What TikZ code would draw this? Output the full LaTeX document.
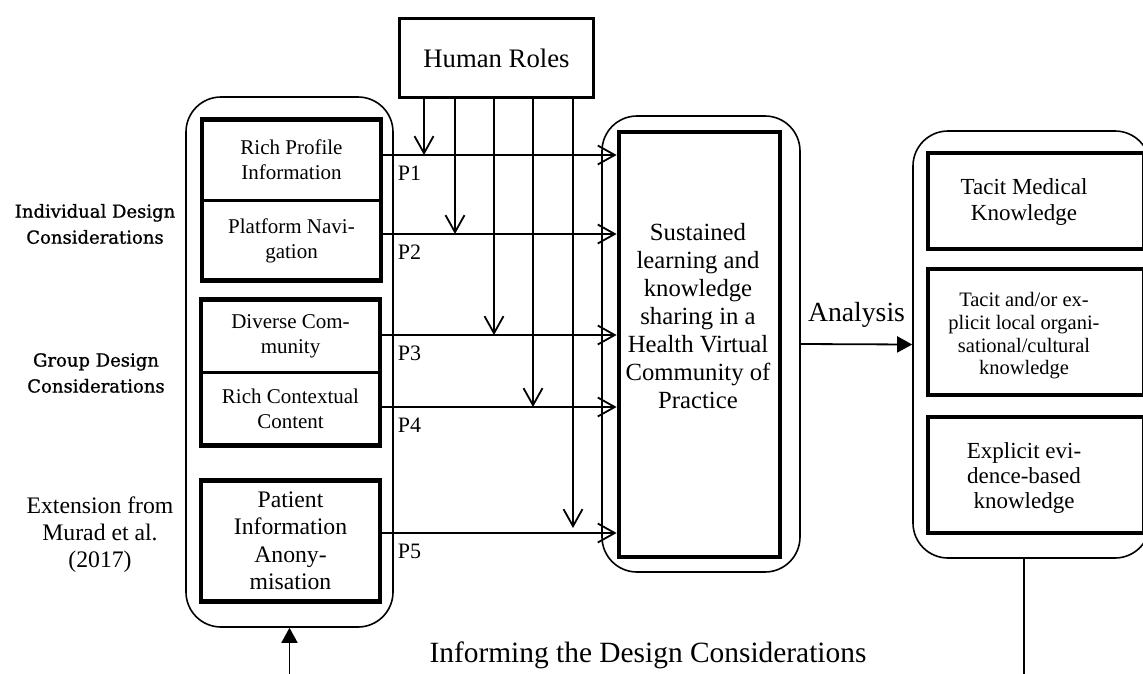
\documentclass[tikz,border=0pt]{standalone}
\usepackage{fontspec}
\setmainfont{Liberation Serif}
\newfontfamily\sidefont[FakeBold=1]{DejaVu Serif}
\usepackage{tikz}
\usetikzlibrary{positioning,arrows.meta,fit}

\begin{document}
\begin{tikzpicture}[x=1pt, y=-1pt,
  grp/.style={draw, rounded corners=35pt, line width=1.6pt, inner sep=0pt},
  cell/.style={draw, line width=2.2pt, minimum width=179pt, align=center, inner sep=0pt, outer sep=0pt, font=\fontsize{21}{25}\selectfont},
  heavy/.style={draw, line width=4.8pt, inner sep=0pt},
  kbox/.style={draw, line width=4.8pt, minimum width=216pt},
  txt/.style={align=center, inner sep=0pt},
  side/.style={txt, font=\sidefont\fontsize{18}{26}\selectfont},
  plbl/.style={font=\fontsize{22}{24}\selectfont, anchor=north west, inner sep=0pt},
  parr/.style={-{Straight Barb[length=17pt,width=19pt]}, line width=1.8pt},
  arr/.style={-{Triangle[length=15pt,width=16pt]}, line width=1.8pt},
]
  \useasboundingbox (0,0) rectangle (1143,673);

  % human roles
  \node[draw, line width=3.5pt, minimum width=194pt, minimum height=79pt, font=\fontsize{26.7}{30}\selectfont] (hr) at (496.5,58) {Human Roles};

  % design considerations
  \node[grp, minimum width=207pt, minimum height=530pt] (dcgrp) at (289.5,362) {};
  \node[cell, minimum height=81pt] (rpi) at (291.5,160) {Rich Profile\\Information};
  \node[cell, minimum height=80pt] (pnv) at (291.5,240.5) {Platform Navi-\\gation};
  \node[heavy, fit=(rpi)(pnv)] (indiv) {};
  \node[cell, minimum height=73pt] (dvc) at (290.5,336) {Diverse Com-\\munity};
  \node[cell, minimum height=73pt] (rcc) at (290.5,409) {Rich Contextual\\Content};
  \node[heavy, fit=(dvc)(rcc)] (group) {};
  \node[cell, line width=4.8pt, minimum height=121pt, font=\fontsize{23.7}{27.5}\selectfont] (pia) at (290.5,541) {Patient\\Information\\Anony-\\misation};

  \node[side] (indlbl) at (95,224) {Individual Design\\Considerations};
  \node[side] (grplbl) at (96,373) {Group Design\\Considerations};
  \node[txt, font=\fontsize{23.7}{27}\selectfont] (extlbl) at (100,535) {Extension from\\Murad et al.\\(2017)};

  % community of practice
  \node[grp, minimum width=198pt, minimum height=456pt] (corgrp) at (701,344) {};
  \node[heavy, minimum width=161pt, minimum height=425pt] (core) at (699.5,344.5) {};
  \node[txt, font=\fontsize{24.7}{28}\selectfont] (coretxt) at (698,316) {Sustained\\learning and\\knowledge\\sharing in a\\Health Virtual\\Community of\\Practice};

  % knowledge types
  \node[grp, minimum width=237pt, minimum height=427pt] (kgrp) at (1031.5,344.5) {};
  \node[kbox, minimum height=96pt] (tmk) at (1036,201) {};
  \node[kbox, minimum height=126pt] (tek) at (1036,332) {};
  \node[kbox, minimum height=116pt] (ebk) at (1036,475) {};
  \node[txt, font=\fontsize{23}{26.7}\selectfont] (tmktxt) at (1024,202) {Tacit Medical\\Knowledge};
  \node[txt, font=\fontsize{20.5}{22.7}\selectfont] (tektxt) at (1024,336) {Tacit and/or ex-\\plicit local organi-\\sational/cultural\\knowledge};
  \node[txt, font=\fontsize{23}{25}\selectfont] (ebktxt) at (1024,478) {Explicit evi-\\dence-based\\knowledge};

  % propositions
  \foreach \n/\y in {rpi/155, pnv/234, dvc/335, rcc/407, pia/533}
    \coordinate (\n-p) at (382,\y);
  \draw[parr] (rpi-p) -- (core.west |- rpi-p) node[plbl, pos=0, xshift=15pt, yshift=-10pt] {P1};
  \draw[parr] (pnv-p) -- (core.west |- pnv-p) node[plbl, pos=0, xshift=15pt, yshift=-10pt] {P2};
  \draw[parr] (dvc-p) -- (core.west |- dvc-p) node[plbl, pos=0, xshift=15pt, yshift=-10pt] {P3};
  \draw[parr] (rcc-p) -- (core.west |- rcc-p) node[plbl, pos=0, xshift=15pt, yshift=-10pt] {P4};
  \draw[parr] (pia-p) -- (core.west |- pia-p) node[plbl, pos=0, xshift=15pt, yshift=-10pt] {P5};

  % roles acting on each proposition
  \foreach \x/\y in {424/155, 455/234, 494/335, 533/407, 573/528}
    \draw[parr] (hr.south -| \x,0) -- (\x,\y);

  \draw[arr] (corgrp.east) -- node[above=16pt, inner sep=0pt, font=\fontsize{27.7}{30}\selectfont] {Analysis} (kgrp.west);

  % feedback
  \coordinate (fbout) at (1024,700);
  \coordinate (fbin) at (289.5,700);
  \draw[line width=1.8pt] (kgrp.south -| fbout) -- (fbout);
  \draw[arr] (fbin) -- (dcgrp.south);
  \node[anchor=base, inner sep=0pt, font=\fontsize{29.4}{32}\selectfont] (inf) at (648,662) {Informing the Design Considerations};
\end{tikzpicture}
\end{document}
